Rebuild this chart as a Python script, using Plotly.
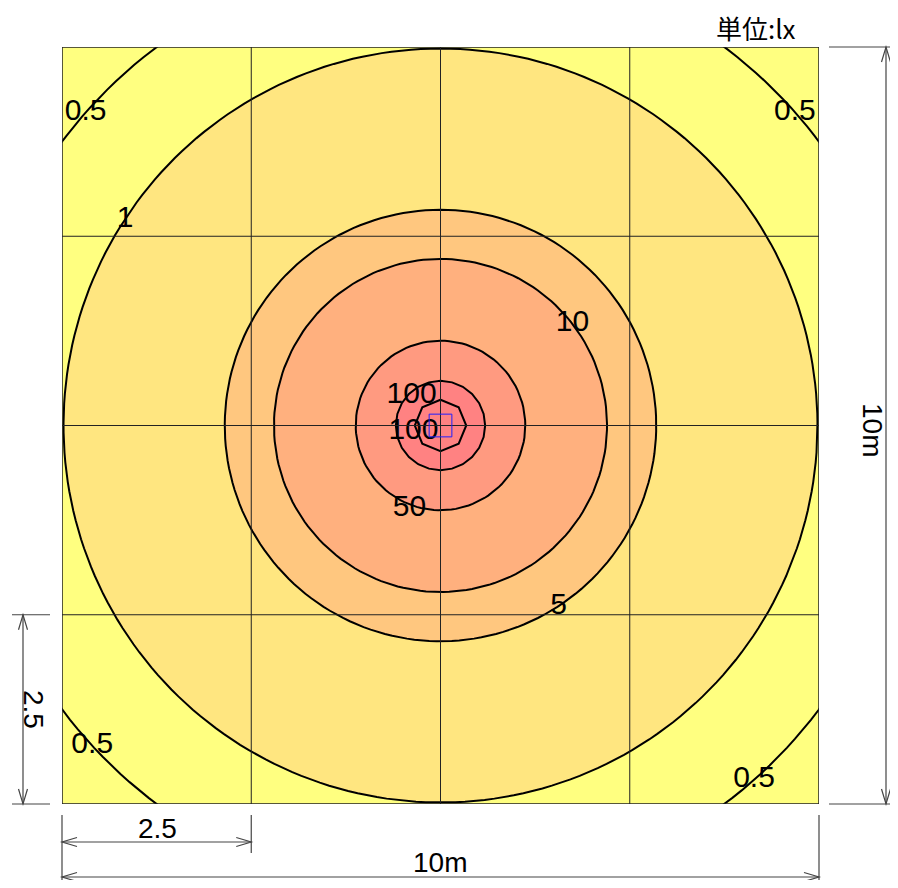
import numpy as np
import plotly.graph_objects as go

# ---------------- data ----------------
room_size_m = [10, 10]
grid_vals = [2.5, 5.0, 7.5]
contour_labels = ["0.5", "1", "5", "10", "50", "100", "100"]
contour_radii_m = [6.25, 4.98, 2.85, 2.20, 1.12, 0.59, 0.34]
band_fill = [None, "#FFE680", "#FFC77F", "#FFB07E", "#FF9A80", "#FF8282", "#FF8282"]
circle_points = [241, 241, 181, 181, 121, 24, 8]
# contour labels: which contour, and at which angle (deg) on it
label_contour = [0, 0, 0, 0, 1, 3, 5, 6, 4, 2]
label_angle = [138.6, 41.5, 222.6, 311.5, 146.8, 37.6, 134.0, 193.0, 249.6, 303.2]
label_radius_scale = [1.0, 1.0, 1.0, 1.0, 1.0, 1.0, 0.93, 1.08, 1.05, 1.0]
unit_text = "単位:lx"
dim_total_text = "10m"
dim_part_text = "2.5"
luminaire_size_m = 0.3

# page body has an 8px margin; design in page pixels and shift,
# keeping the figure small enough that the page never scrolls
OFF = 8
PAGE_W, PAGE_H = 898, 888
W, H = PAGE_W - 2 * OFF, PAGE_H - 2 * OFF
PLOT_L, PLOT_T, PW, PH = 62, 47, 757, 757          # page pixels of plot area
ML, MT = PLOT_L - OFF, PLOT_T - OFF
MR, MB = W - ML - PW, H - MT - PH

cx, cy = room_size_m[0] / 2, room_size_m[1] / 2

fig = go.Figure()

# filled bands (outermost first)
for i, r in enumerate(contour_radii_m):
    n = circle_points[i]
    t = np.linspace(0, 2 * np.pi, n + 1) + np.pi / 2
    xs = cx + r * np.cos(t)
    ys = cy + r * np.sin(t)
    fig.add_trace(go.Scatter(
        x=xs, y=ys, mode="lines",
        line=dict(color="black", width=2),
        fill="toself" if band_fill[i] else "none",
        fillcolor=band_fill[i] if band_fill[i] else None,
        hoverinfo="skip", showlegend=False))

# contour labels
lx, ly, lt = [], [], []
for k, ci in enumerate(label_contour):
    r = contour_radii_m[ci] * label_radius_scale[k]
    a = np.deg2rad(label_angle[k])
    lx.append(cx + r * np.cos(a))
    ly.append(cy + r * np.sin(a))
    lt.append(contour_labels[ci])
fig.add_trace(go.Scatter(
    x=lx, y=ly, mode="text", text=lt, textposition="middle center",
    textfont=dict(family="Liberation Sans Narrow, Liberation Sans, Arial", size=30, color="black"),
    cliponaxis=False, hoverinfo="skip", showlegend=False))

shapes = []
# grid lines above fills
for g in grid_vals:
    shapes.append(dict(type="line", xref="x", yref="y", x0=g, x1=g, y0=0, y1=room_size_m[1],
                       line=dict(color="#222", width=1), layer="above"))
    shapes.append(dict(type="line", xref="x", yref="y", y0=g, y1=g, x0=0, x1=room_size_m[0],
                       line=dict(color="#222", width=1), layer="above"))
# frame
shapes.append(dict(type="rect", xref="x", yref="y", x0=0, x1=room_size_m[0], y0=0, y1=room_size_m[1],
                   line=dict(color="#222", width=1.5), layer="above"))
# luminaire
h = luminaire_size_m / 2
shapes.append(dict(type="rect", xref="x", yref="y", x0=cx - h, x1=cx + h, y0=cy - h, y1=cy + h,
                   line=dict(color="#2020FF", width=1), layer="above"))

# ---------- dimension lines (page pixel -> paper) ----------
def fx(px):
    return (px - PLOT_L) / PW

def fy(py):
    return (PLOT_T + PH - py) / PH

DIM = "#444"

def seg(x0, y0, x1, y1):
    shapes.append(dict(type="line", xref="paper", yref="paper",
                       x0=fx(x0), y0=fy(y0), x1=fx(x1), y1=fy(y1),
                       line=dict(color=DIM, width=1.2)))

def head(tx, ty, dx, dy, L=15, Wd=4.5):
    px_, py_ = -dy, dx
    ax1, ay1 = tx - L * dx + Wd * px_, ty - L * dy + Wd * py_
    ax2, ay2 = tx - L * dx - Wd * px_, ty - L * dy - Wd * py_
    path = "M {},{} L {},{} L {},{}".format(fx(ax1), fy(ay1), fx(tx), fy(ty), fx(ax2), fy(ay2))
    shapes.append(dict(type="path", xref="paper", yref="paper", path=path,
                       line=dict(color=DIM, width=1.2)))

def dim_line(x0, y0, x1, y1):
    seg(x0, y0, x1, y1)
    d = np.hypot(x1 - x0, y1 - y0)
    ux, uy = (x1 - x0) / d, (y1 - y0) / d
    head(x1, y1, ux, uy)
    head(x0, y0, -ux, -uy)

px_left, px_right = PLOT_L, PLOT_L + PW
py_top, py_bot = PLOT_T, PLOT_T + PH
px_grid1 = PLOT_L + PW * grid_vals[0] / room_size_m[0]
py_grid1 = PLOT_T + PH * (1 - grid_vals[0] / room_size_m[1])

# right: total height
seg(829, py_top, 890, py_top)
seg(829, py_bot, 890, py_bot)
dim_line(886, py_top, 886, py_bot)
# left: 2.5
seg(12, py_grid1, 50, py_grid1)
seg(12, py_bot, 50, py_bot)
dim_line(23, py_grid1, 23, py_bot)
# bottom: 2.5
seg(px_left, 815, px_left, 880)
seg(px_grid1, 815, px_grid1, 853)
dim_line(px_left, 842, px_grid1, 842)
# bottom: total width
seg(px_right, 815, px_right, 880)
dim_line(px_left, 877, px_right, 877)

font_dim = dict(family="Liberation Sans Narrow, Liberation Sans, Arial", size=28, color="black")
ann = [
    dict(xref="paper", yref="paper", x=fx(756), y=fy(28), text=unit_text, showarrow=False,
         xanchor="center", yanchor="middle",
         font=dict(family="Noto Sans CJK JP", size=26, color="black")),
    dict(xref="paper", yref="paper", x=fx(873), y=fy(430), text=dim_total_text, showarrow=False,
         textangle=90, xanchor="center", yanchor="middle", font=font_dim),
    dict(xref="paper", yref="paper", x=fx(34), y=fy(710), text=dim_part_text, showarrow=False,
         textangle=90, xanchor="center", yanchor="middle", font=font_dim),
    dict(xref="paper", yref="paper", x=fx(157), y=fy(828), text=dim_part_text, showarrow=False,
         xanchor="center", yanchor="middle", font=font_dim),
    dict(xref="paper", yref="paper", x=fx(440), y=fy(862), text=dim_total_text, showarrow=False,
         xanchor="center", yanchor="middle", font=font_dim),
]

fig.update_layout(
    width=W, height=H,
    margin=dict(l=ML, r=MR, t=MT, b=MB, pad=0),
    paper_bgcolor="white", plot_bgcolor="#FFFF80",
    shapes=shapes, annotations=ann, showlegend=False,
    xaxis=dict(range=[0, room_size_m[0]], showgrid=False, zeroline=False, showticklabels=False,
               ticks="", fixedrange=True),
    yaxis=dict(range=[0, room_size_m[1]], showgrid=False, zeroline=False, showticklabels=False,
               ticks="", fixedrange=True),
)

fig.write_html("out.html")
